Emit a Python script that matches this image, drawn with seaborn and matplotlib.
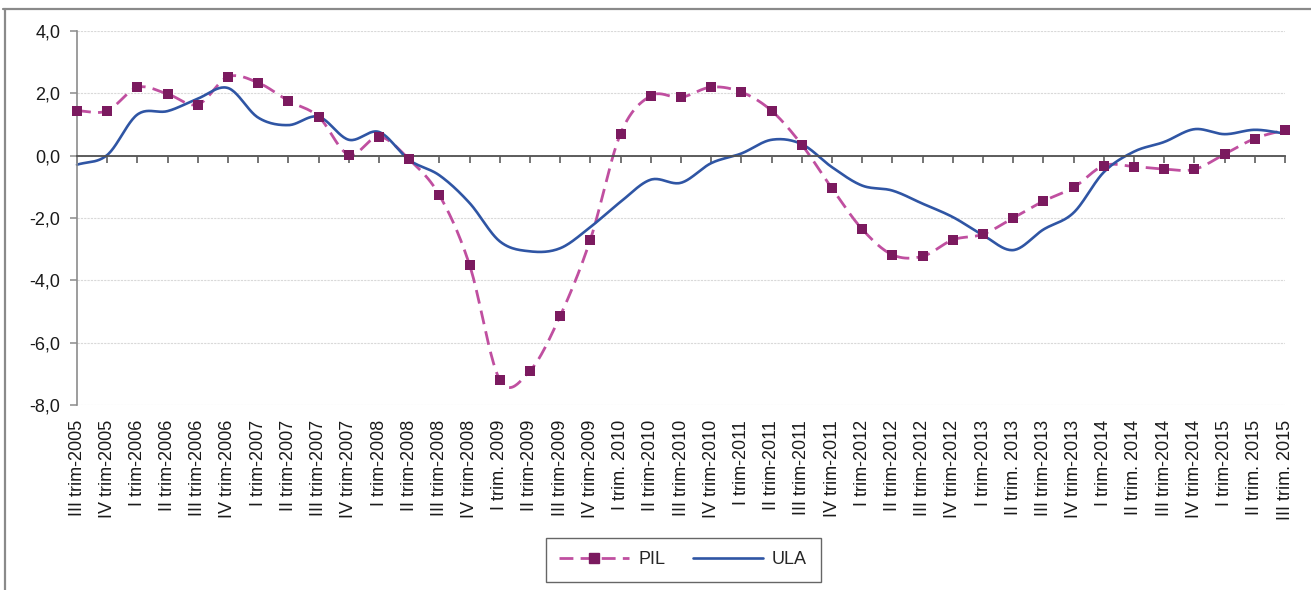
import numpy as np
import pandas as pd
import seaborn as sns
import matplotlib.pyplot as plt
from matplotlib.lines import Line2D
from matplotlib.ticker import FuncFormatter, MultipleLocator
from matplotlib.transforms import blended_transform_factory

# trimestri
labels = ["III trim-2005", "IV trim-2005",
          "I trim-2006", "II trim-2006", "III trim-2006", "IV trim-2006",
          "I trim-2007", "II trim-2007", "III trim-2007", "IV trim-2007",
          "I trim-2008", "II trim-2008", "III trim-2008", "IV trim-2008",
          "I trim. 2009", "II trim-2009", "III trim-2009", "IV trim-2009",
          "I trim. 2010", "II trim-2010", "III trim-2010", "IV trim-2010",
          "I trim-2011", "II trim-2011", "III trim-2011", "IV trim-2011",
          "I trim-2012", "II trim-2012", "III trim-2012", "IV trim-2012",
          "I trim-2013", "II trim. 2013", "III trim-2013", "IV trim-2013",
          "I trim-2014", "II trim. 2014", "III trim-2014", "IV trim-2014",
          "I trim-2015", "II trim. 2015", "III trim. 2015"]

pil = [1.44, 1.44, 2.19, 1.98, 1.64, 2.53, 2.34, 1.76, 1.25, 0.03,
       0.61, -0.12, -1.27, -3.51, -7.19, -6.90, -5.14, -2.69, 0.71, 1.92,
       1.87, 2.20, 2.04, 1.44, 0.35, -1.05, -2.36, -3.18, -3.23, -2.70,
       -2.52, -2.00, -1.46, -1.02, -0.32, -0.35, -0.43, -0.44, 0.05, 0.55,
       0.83]

ula = [-0.29, 0.02, 1.32, 1.43, 1.83, 2.17, 1.22, 0.98, 1.25, 0.51,
       0.76, -0.14, -0.63, -1.52, -2.75, -3.07, -2.97, -2.29, -1.48, -0.77,
       -0.87, -0.24, 0.07, 0.51, 0.37, -0.37, -0.96, -1.12, -1.54, -1.97,
       -2.55, -3.03, -2.37, -1.83, -0.53, 0.13, 0.44, 0.85, 0.69, 0.83,
       0.71]

PIL_LINE = "#C04FA0"
PIL_MARK = "#7B1A5F"
ULA_COL = "#2F55A4"


def smooth(y, n=24):
    # linea "smussata" come in Excel (Catmull-Rom)
    y = np.asarray(y, dtype=float)
    p = np.concatenate([[2 * y[0] - y[1]], y, [2 * y[-1] - y[-2]]])
    xs, ys = [], []
    t = np.linspace(0, 1, n, endpoint=False)
    for i in range(len(y) - 1):
        p0, p1, p2, p3 = p[i], p[i + 1], p[i + 2], p[i + 3]
        yy = 0.5 * ((2 * p1) + (-p0 + p2) * t
                    + (2 * p0 - 5 * p1 + 4 * p2 - p3) * t ** 2
                    + (-p0 + 3 * p1 - 3 * p2 + p3) * t ** 3)
        xs.extend(i + t)
        ys.extend(yy)
    xs.append(len(y) - 1)
    ys.append(y[-1])
    return np.array(xs), np.array(ys)


sns.set_theme(style="white")
plt.rcParams['font.family'] = ['Liberation Sans', 'DejaVu Sans']

fig = plt.figure(figsize=(13.11, 5.9), dpi=100)
ax = fig.add_axes([77 / 1311, 1 - 405 / 590, (1285 - 77) / 1311, (405 - 31) / 590])

x = np.arange(len(labels))
xs, ys_pil = smooth(pil)
_, ys_ula = smooth(ula)

df_smooth = pd.DataFrame({"x": xs, "PIL": ys_pil, "ULA": ys_ula})

sns.lineplot(data=df_smooth, x="x", y="PIL", ax=ax, color=PIL_LINE,
             linewidth=2.0, clip_on=False)
ax.lines[-1].set_linestyle((0, (5, 2.6)))
sns.lineplot(data=df_smooth, x="x", y="ULA", ax=ax, color=ULA_COL,
             linewidth=1.9, clip_on=False)
sns.scatterplot(x=x, y=pil, ax=ax, marker="s", s=52, color=PIL_MARK,
                edgecolor=PIL_MARK, linewidth=0, zorder=5, clip_on=False)

ax.set_xlim(0, len(labels) - 1)
ax.set_ylim(-8, 4)
ax.yaxis.set_major_locator(MultipleLocator(2))
ax.yaxis.set_major_formatter(FuncFormatter(lambda v, p: f"{v:.1f}".replace(".", ",")))
ax.grid(axis="y", color="#d9d9d9", linestyle=(0, (2, 1)), linewidth=0.8)
ax.set_axisbelow(True)

for s in ["top", "right"]:
    ax.spines[s].set_visible(False)
ax.spines["left"].set_color("#8c8c8c")
ax.spines["left"].set_linewidth(1.2)
ax.spines["bottom"].set_position(("data", 0))
ax.spines["bottom"].set_color("#505050")
ax.spines["bottom"].set_linewidth(1.3)

ax.set_xticks(x)
ax.set_xticklabels([])
ax.tick_params(axis="x", direction="out", length=5, width=1.1, color="#505050", bottom=True)
ax.tick_params(axis="y", direction="out", length=5, width=1.1, color="#8c8c8c",
               left=True, pad=7, labelsize=13, labelcolor="#1a1a1a")
ax.set_xlabel("")
ax.set_ylabel("")

trans = blended_transform_factory(ax.transData, ax.transAxes)
for i, lab in enumerate(labels):
    ax.text(i, -0.04, lab, transform=trans, rotation=90, ha="center", va="top",
            fontsize=13, color="#1a1a1a")

handles = [Line2D([], [], color=PIL_LINE, linestyle=(0, (5, 2.6)), linewidth=2.0,
                  marker="s", markersize=7, markerfacecolor=PIL_MARK,
                  markeredgecolor=PIL_MARK),
           Line2D([], [], color=ULA_COL, linewidth=1.9)]
leg = fig.legend(handles, ["PIL", "ULA"], loc="center", bbox_to_anchor=(0.521, 0.051),
                 ncol=2, frameon=True, fancybox=False, fontsize=13, handlelength=3.9,
                 columnspacing=1.5, borderpad=0.75, handletextpad=0.5)
leg.get_frame().set_edgecolor("#404040")
leg.get_frame().set_linewidth(1.0)

# cornice del riquadro
fig.add_artist(Line2D([3 / 1311, 1], [1 - 9 / 590, 1 - 9 / 590], color="#8a8a8a",
                      linewidth=1.6, transform=fig.transFigure))
fig.add_artist(Line2D([4.5 / 1311, 4.5 / 1311], [0, 1 - 9 / 590], color="#8a8a8a",
                      linewidth=1.6, transform=fig.transFigure))

fig.savefig("out.png", dpi=100)
